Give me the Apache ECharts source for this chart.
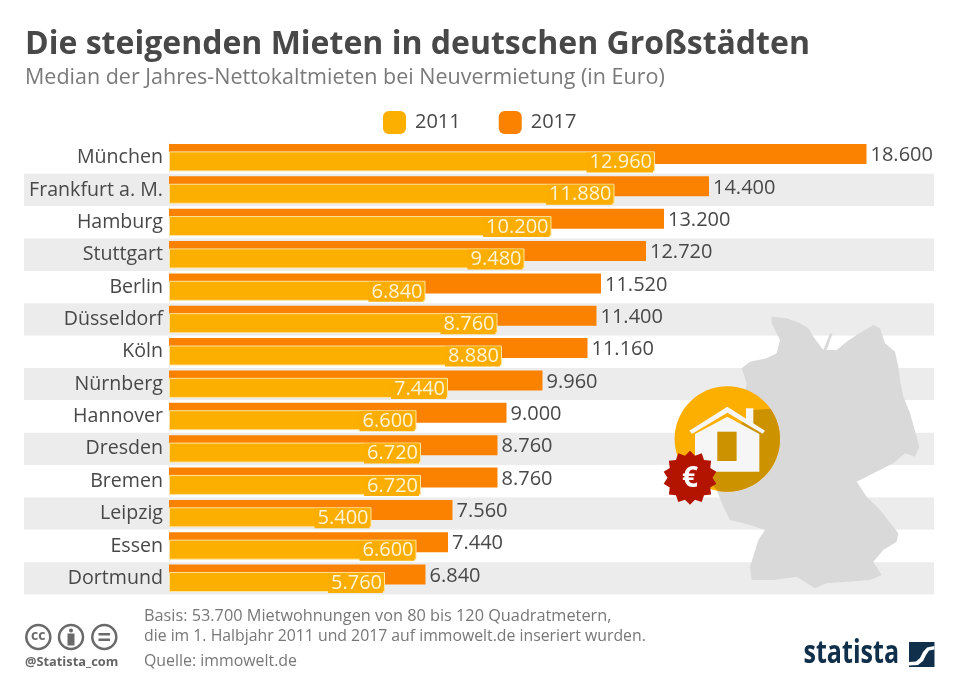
<!DOCTYPE html>
<html><head><meta charset="utf-8">
<style>html,body{margin:0;padding:0;background:#fff}#c{width:960px;height:684px}</style>
<script src="https://cdn.jsdelivr.net/npm/echarts@6/dist/echarts.min.js"></script>
</head><body><div id="c"></div>
<script>
const cities=['München','Frankfurt a. M.','Hamburg','Stuttgart','Berlin','Düsseldorf','Köln','Nürnberg','Hannover','Dresden','Bremen','Leipzig','Essen','Dortmund'];
const rent2011=[12960,11880,10200,9480,6840,8760,8880,7440,6600,6720,6720,5400,6600,5760];
const rent2017=[18600,14400,13200,12720,11520,11400,11160,9960,9000,8760,8760,7560,7440,6840];
const fmt=v=>String(v).replace(/\B(?=(\d{3})+$)/g,'.');
const F='"Open Sans"';
const Z=(x,y)=>[640+x/3,300+y/3];
const P=a=>a.map(p=>Z(p[0],p[1]));
const germany=[[395,50],[440,55],[480,70],[505,85],[520,110],[550,150],[570,100],[578,100],[560,150],[590,150],[620,125],[650,105],[700,75],[720,85],[735,130],[765,155],[775,200],[780,240],[790,290],[810,340],[830,410],[838,440],[825,470],[795,460],[760,490],[700,520],[650,545],[680,590],[720,630],[775,700],[770,725],[730,750],[700,785],[725,825],[690,840],[620,845],[560,850],[525,865],[470,830],[400,840],[335,840],[330,800],[355,720],[375,690],[330,675],[270,660],[250,620],[230,570],[260,560],[320,250],[305,205],[330,185],[380,175],[410,160],[420,120],[395,70]];
const star=[];for(let i=0;i<28;i++){const r=i%2?22.5:27,a=i*Math.PI/14;star.push([690+r*Math.sin(a),477.7-r*Math.cos(a)]);}
const shadow=[[753,410]];for(let d=-35;d<=100;d+=5){const a=d*Math.PI/180;shadow.push([727.3+52.7*Math.cos(a),439+52.7*Math.sin(a)]);}shadow.push([700,472]);
const g=[
 {type:'polygon',z:1,shape:{points:P(germany)},style:{fill:'#d9d9d9'}},
 {type:'circle',z:1,shape:{cx:727.3,cy:439,r:52.7},style:{fill:'#fdaf00'}},
 {type:'polygon',z:1,shape:{points:shadow},style:{fill:'#cc9200'}},
 {type:'polygon',z:1,shape:{points:P([[318,325],[340,325],[340,375],[318,360]])},style:{fill:'#f6f6f6'}},
 {type:'polygon',z:1,shape:{points:P([[165,402],[262,350],[358,402],[358,515],[165,515]])},style:{fill:'#f6f6f6'}},
 {type:'polygon',z:1,shape:{points:P([[148,392],[262,320],[375,392],[368,401],[262,338],[156,402]])},style:{fill:'#f6f6f6'}},
 {type:'rect',z:1,shape:{x:717.3,y:431.7,width:19.3,height:29.3},style:{fill:'#cc9200'}},
 {type:'polygon',z:1,shape:{points:star},style:{fill:'#b31400'}},
 {type:'text',z:1,style:{x:690,y:479,text:'€',fill:'#fff',font:'bold 28px '+F,align:'center',verticalAlign:'middle'}},
 {type:'circle',shape:{cx:38.3,cy:637,r:12},style:{fill:'none',stroke:'#6a6a6a',lineWidth:2.5}},
 {type:'text',style:{x:38.3,y:636,text:'cc',fill:'#6a6a6a',font:'bold 14px '+F,align:'center',verticalAlign:'middle'}},
 {type:'circle',shape:{cx:71,cy:637,r:12},style:{fill:'none',stroke:'#6a6a6a',lineWidth:2.5}},
 {type:'circle',shape:{cx:71,cy:630.5,r:2},style:{fill:'#6a6a6a'}},
 {type:'rect',shape:{x:67.5,y:633.5,width:7,height:12},style:{fill:'#6a6a6a'}},
 {type:'circle',shape:{cx:104.3,cy:637,r:12},style:{fill:'none',stroke:'#6a6a6a',lineWidth:2.5}},
 {type:'rect',shape:{x:98.5,y:633,width:11.5,height:2.5},style:{fill:'#6a6a6a'}},
 {type:'rect',shape:{x:98.5,y:638.5,width:11.5,height:2.5},style:{fill:'#6a6a6a'}},
 {type:'text',style:{x:25,y:662,text:'@Statista_com',fill:'#666',font:'bold 12.8px '+F,verticalAlign:'middle'}},
 {type:'text',style:{x:144,y:616,text:'Basis: 53.700 Mietwohnungen von 80 bis 120 Quadratmetern,',fill:'#777',font:'16.3px '+F,verticalAlign:'middle'}},
 {type:'text',style:{x:144,y:636,text:'die im 1. Halbjahr 2011 und 2017 auf immowelt.de inseriert wurden.',fill:'#777',font:'15.8px '+F,verticalAlign:'middle'}},
 {type:'text',style:{x:144,y:661,text:'Quelle: immowelt.de',fill:'#777',font:'15.9px '+F,verticalAlign:'middle'}},
 {type:'text',x:803.5,y:654,scaleX:0.76,scaleY:1,style:{x:0,y:0,text:'statista',fill:'#0f2f4a',font:'bold 33px '+F,verticalAlign:'middle'}},
 {type:'rect',shape:{x:909,y:642,width:25.5,height:25},style:{fill:'#0f2f4a'}},
 {type:'polygon',shape:{points:[[909,662],[916,661.5],[920,658],[923,652],[927,647.5],[934.5,646],[934.5,649.5],[929,650.5],[926,655],[923,661],[918,665],[909,665.5]]},style:{fill:'#fff'}}
];
const chart=echarts.init(document.getElementById('c'),null,{renderer:'canvas'});
chart.setOption({
 animation:false,
 backgroundColor:'#fff',
 title:[
  {text:'Die steigenden Mieten in deutschen Großstädten',left:25,top:29,padding:0,textStyle:{fontFamily:F,fontWeight:'bold',fontSize:32,color:'#484848'}},
  {text:'Median der Jahres-Nettokaltmieten bei Neuvermietung (in Euro)',left:25,top:67,padding:0,textStyle:{fontFamily:F,fontWeight:'normal',fontSize:21.5,color:'#7a7a7a'}}
 ],
 legend:{data:['2011','2017'],left:383,top:111,padding:0,itemWidth:23,itemHeight:23,itemGap:38,icon:'roundRect',
  itemStyle:{borderWidth:0},
  textStyle:{fontFamily:F,fontSize:20,color:'#484848',padding:[9,0,0,4]}},
 grid:[
  {left:169,top:141.5,width:765,height:453,outerBoundsMode:'none'},
  {left:24,top:141.5,width:145,height:453,outerBoundsMode:'none'}
 ],
 xAxis:[
  {type:'value',gridIndex:0,min:0,max:20400,show:false,splitLine:{show:false}},
  {type:'value',gridIndex:1,min:0,max:1,show:false,splitLine:{show:false}}
 ],
 yAxis:[
  {type:'category',gridIndex:0,inverse:true,data:cities,
   axisLine:{show:true,lineStyle:{color:'#f2f2f2',width:1}},
   axisTick:{show:false},
   axisLabel:{fontFamily:F,fontSize:19.6,color:'#484848',margin:6,padding:[2,0,0,0]},
   splitArea:{show:true,areaStyle:{color:['#ffffff','#ececec']}}},
  {type:'category',gridIndex:1,inverse:true,data:cities,
   axisLine:{show:false},axisTick:{show:false},axisLabel:{show:false},
   splitArea:{show:true,areaStyle:{color:['#ffffff','#ececec']}}}
 ],
 series:[
  {name:'2017',type:'bar',xAxisIndex:0,yAxisIndex:0,data:rent2017,barWidth:20,barGap:'-63%',itemStyle:{color:'#fb8200'},z:3,
   label:{show:true,position:'right',distance:4,offset:[0,1.5],fontFamily:F,fontSize:20,color:'#484848',formatter:p=>fmt(p.value)}},
  {name:'2011',type:'bar',xAxisIndex:0,yAxisIndex:0,data:rent2011,barWidth:20,itemStyle:{color:'#fdaf00',borderColor:'#ffe3a0',borderWidth:1},z:4,
   label:{show:true,position:'insideRight',distance:2,offset:[0,1],fontFamily:F,fontSize:20,color:'#fff3d6',backgroundColor:'#fbad00',padding:[0,1,0,3],formatter:p=>fmt(p.value)}}
 ],
 graphic:g
});
</script></body></html>
